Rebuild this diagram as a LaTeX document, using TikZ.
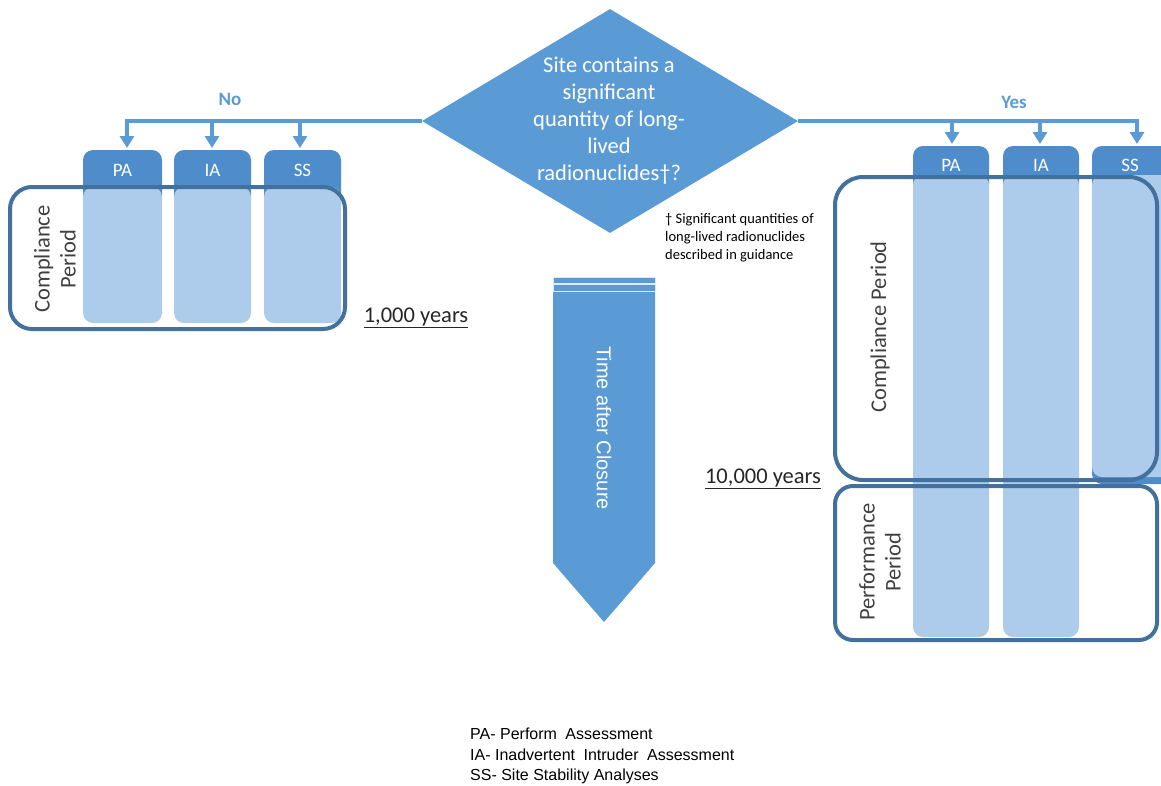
\documentclass[tikz,border=0pt]{standalone}
\usepackage{fontspec}
\setmainfont{Carlito}
\newfontfamily\arialf{Liberation Sans}
\usetikzlibrary{shapes.geometric,arrows.meta}
\definecolor{accent}{HTML}{5B9BD5}
\definecolor{tabblue}{HTML}{4F8CCB}
\definecolor{boxline}{HTML}{41719C}
\definecolor{lightcol}{HTML}{ADCBEA}
\definecolor{labelgray}{HTML}{404040}
\begin{document}
\begin{tikzpicture}[x=1pt,y=-1pt,
  flow/.style={draw=accent, line width=4pt},
  tip/.style={-{Triangle[width=14pt,length=12pt]}},
  periodbox/.style={draw=boxline, line width=4pt, rounded corners=#1},
  tabshape/.style={fill=tabblue, rounded corners=10pt},
  colshape/.style={fill=lightcol, rounded corners=10pt},
  tablabel/.style={text=white, font=\fontsize{19}{22}\selectfont, inner sep=0pt},
  branchlabel/.style={text=accent, font=\bfseries\fontsize{19}{22}\selectfont},
  periodlabel/.style={text=labelgray, align=center, font=\fontsize{22.5}{26}\selectfont, inner sep=0pt},
  yearlabel/.style={text=black!85, font=\fontsize{22.5}{26}\selectfont, inner sep=0pt},
]
\useasboundingbox (0,0) rectangle (1161,785);
\clip (0,0) rectangle (1161,785);

% decision diamond
\node[diamond, fill=accent, minimum width=376pt, minimum height=224pt, inner sep=0pt] (q) at (610,121) {};
\node[text=white, align=center, font=\fontsize{22.5}{27}\selectfont, inner sep=0pt] (qt) at (609,121)
  {Site contains a\\significant\\quantity of long-\\lived\\radionuclides†?};

% footnote
\node[anchor=west, align=left, text=black, font=\fontsize{14.5}{18}\selectfont, inner sep=0pt] (fn) at (665,238)
  {† Significant quantities of\\long-lived radionuclides\\described in guidance};

% ---------- left (No) branch ----------
\fill[tabshape] (83,150) rectangle (162,205);
\fill[tabshape] (174,150) rectangle (251,205);
\fill[tabshape] (264,150) rectangle (341,205);
\fill[colshape] (83,187) rectangle (162,323);
\fill[colshape] (174,187) rectangle (251,323);
\fill[colshape] (264,187) rectangle (341,323);
\draw[periodbox=22pt] (10,187) rectangle (345,329);
\node[tablabel] (paL) at (122.5,170) {PA};
\node[tablabel] (iaL) at (212.5,170) {IA};
\node[tablabel] (ssL) at (302.5,170) {SS};
\node[periodlabel, rotate=90] (cpL) at (55,259) {Compliance\\Period};
\node[yearlabel] (y1) at (416,318) {\underline{1,000 years}};

\coordinate (aPAl) at (127,148);
\coordinate (aIAl) at (212,148);
\coordinate (aSSl) at (300,148);
\draw[flow,tip] (q.west) -| (aPAl);
\draw[flow,tip] (aIAl |- q.west) -- (aIAl);
\draw[flow,tip] (aSSl |- q.west) -- (aSSl);
\node[branchlabel] (no) at (230,99) {No};

% ---------- right (Yes) branch ----------
\fill[tabshape] (913,146) rectangle (989,195);
\fill[tabshape] (1003,146) rectangle (1079,195);
\fill[tabshape] (1092,146) rectangle (1175,484);
\fill[colshape] (913,175) rectangle (989,637);
\fill[colshape] (1003,175) rectangle (1079,637);
\fill[colshape] (1092,175) rectangle (1175,477);
\draw[periodbox=28pt] (835,177) rectangle (1157,480);
\draw[periodbox=18pt] (835,486) rectangle (1157,640);
\node[tablabel] (paR) at (951,165) {PA};
\node[tablabel] (iaR) at (1041,165) {IA};
\node[tablabel] (ssR) at (1130,165) {SS};
\node[periodlabel, rotate=90] (cpR) at (880,327) {Compliance Period};
\node[periodlabel, rotate=90] (ppR) at (880,562) {Performance\\Period};
\node[yearlabel] (y2) at (763,479) {\underline{10,000 years}};

\coordinate (aPAr) at (952,144);
\coordinate (aIAr) at (1040,144);
\coordinate (aSSr) at (1137,144);
\draw[flow,tip] (q.east) -| (aSSr);
\draw[flow,tip] (aPAr |- q.east) -- (aPAr);
\draw[flow,tip] (aIAr |- q.east) -- (aIAr);
\node[branchlabel] (yes) at (1014,102) {Yes};

% ---------- time arrow ----------
\fill[accent, draw=white!80!accent, line width=0.6pt] (553,277) rectangle (655,283);
\fill[accent, draw=white!80!accent, line width=0.6pt] (553,284) rectangle (655,291);
\fill[accent] (553,292) -- (655,292) -- (655,563) -- (604,622) -- (553,563) -- cycle;
\node[rotate=-90, text=white, font=\arialf\fontsize{20}{24}\selectfont, inner sep=0pt] (tac) at (604,428) {Time after Closure};

% ---------- legend ----------
\node[anchor=west, align=left, font=\arialf\fontsize{16}{20.5}\selectfont, inner sep=0pt] (leg) at (470,756)
  {PA- Perform\hspace{0.25em} Assessment\\IA- Inadvertent\hspace{0.25em} Intruder\hspace{0.25em} Assessment\\SS- Site Stability Analyses};
\end{tikzpicture}
\end{document}
